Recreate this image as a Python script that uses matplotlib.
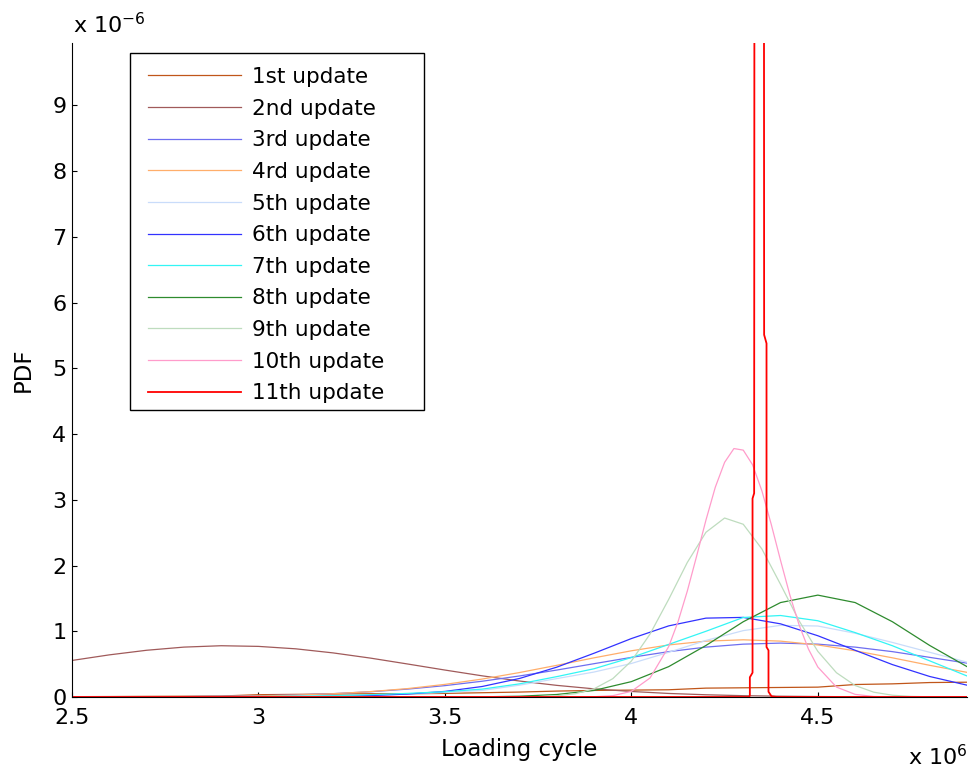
import numpy as np
import matplotlib
matplotlib.use('Agg')
import matplotlib.pyplot as plt
from matplotlib.patches import Rectangle

# Loading cycle in units of 10^6, PDF in units of 10^-6.
cycles = [2.5, 2.6, 2.7, 2.8, 2.9, 3.0, 3.1, 3.2, 3.3, 3.4, 3.5, 3.6, 3.7,
          3.8, 3.9, 4.0, 4.1, 4.2, 4.3, 4.4, 4.5, 4.6, 4.7, 4.8, 4.9]

pdf_1st = [0.005, 0.007, 0.01, 0.012, 0.015, 0.035, 0.04, 0.045, 0.05, 0.05, 0.055, 0.065, 0.075,
           0.09, 0.1, 0.105, 0.11, 0.135, 0.14, 0.145, 0.15, 0.19, 0.2, 0.22, 0.225]
pdf_2nd = [0.556, 0.641, 0.711, 0.759, 0.78, 0.77, 0.733, 0.671, 0.592, 0.502, 0.41, 0.322, 0.243,
           0.177, 0.124, 0.084, 0.054, 0.034, 0.02, 0.012, 0.007, 0.004, 0.002, 0.001, 0.0005]
pdf_3rd = [0.001, 0.002, 0.003, 0.006, 0.011, 0.019, 0.032, 0.051, 0.08, 0.12, 0.173, 0.24, 0.32,
           0.41, 0.507, 0.603, 0.69, 0.759, 0.804, 0.82, 0.804, 0.759, 0.69, 0.603, 0.515]
pdf_4th = [0.0004, 0.0009, 0.002, 0.004, 0.009, 0.016, 0.029, 0.05, 0.082, 0.128, 0.192, 0.273, 0.372,
           0.482, 0.596, 0.703, 0.792, 0.85, 0.87, 0.85, 0.792, 0.703, 0.596, 0.482, 0.375]
pdf_5th = [0.0, 0.001, 0.001, 0.002, 0.003, 0.005, 0.009, 0.016, 0.027, 0.045, 0.07, 0.1, 0.18,
           0.28, 0.38, 0.51, 0.68, 0.86, 1.01, 1.09, 1.08, 0.97, 0.83, 0.68, 0.53]
pdf_6th = [0.0, 0.0, 0.0, 0.0001, 0.0002, 0.001, 0.003, 0.008, 0.022, 0.045, 0.085, 0.16, 0.282,
           0.454, 0.666, 0.889, 1.082, 1.2, 1.211, 1.113, 0.932, 0.711, 0.493, 0.312, 0.18]
pdf_7th = [0.0, 0.0, 0.001, 0.002, 0.004, 0.007, 0.012, 0.02, 0.035, 0.055, 0.08, 0.12, 0.2,
           0.31, 0.43, 0.6, 0.8, 1.0, 1.21, 1.24, 1.16, 0.98, 0.78, 0.55, 0.32]
pdf_8th = [0.0, 0.0, 0.0, 0.0, 0.0, 0.0, 0.0, 0.0, 0.0, 0.0, 0.001, 0.003, 0.012,
           0.038, 0.1, 0.234, 0.462, 0.784, 1.145, 1.437, 1.55, 1.437, 1.145, 0.784, 0.462]

cycles_9th = [2.5, 3.0, 3.5, 3.7, 3.75, 3.8, 3.85, 3.9, 3.95, 4.0, 4.05, 4.1, 4.15, 4.2,
              4.25, 4.3, 4.35, 4.4, 4.45, 4.5, 4.55, 4.6, 4.65, 4.7, 4.75, 4.8, 4.9]
pdf_9th = [0.0, 0.0, 0.0, 0.002, 0.006, 0.018, 0.05, 0.125, 0.278, 0.547, 0.957, 1.485, 2.047, 2.506,
           2.723, 2.628, 2.252, 1.713, 1.157, 0.694, 0.369, 0.175, 0.073, 0.027, 0.009, 0.003, 0.0]

cycles_10th = [2.5, 3.5, 3.8, 3.85, 3.9, 3.95, 4.0, 4.05, 4.1, 4.125, 4.15, 4.175, 4.2, 4.225,
               4.25, 4.275, 4.3, 4.325, 4.35, 4.375, 4.4, 4.425, 4.45, 4.475, 4.5, 4.55, 4.6,
               4.65, 4.7, 4.8, 4.9]
pdf_10th = [0.0, 0.0, 0.0001, 0.0006, 0.004, 0.02, 0.086, 0.289, 0.766, 1.144, 1.612, 2.144, 2.692, 3.191,
            3.57, 3.78, 3.756, 3.533, 3.136, 2.628, 2.078, 1.551, 1.093, 0.727, 0.456, 0.151, 0.04,
            0.008, 0.001, 0.0, 0.0]

cycles_11th = [2.5, 4.3, 4.3163, 4.3177, 4.3177, 4.3249, 4.3249, 4.3292, 4.33, 4.343, 4.3555,
               4.356, 4.3624, 4.3624, 4.3677, 4.3677, 4.3758, 4.39, 4.9]
pdf_11th = [0.0, 0.0, 0.0, 0.03, 0.3, 0.37, 3.02, 3.1, 12.0, 40.0, 12.0,
            5.51, 5.38, 0.76, 0.71, 0.08, 0.01, 0.0, 0.0]

labels = ['1st update', '2nd update', '3rd update', '4rd update', '5th update', '6th update',
          '7th update', '8th update', '9th update', '10th update', '11th update']
colors = ['#c0561a', '#a05a5a', '#6e6ef0', '#ffae6b', '#c9dcfa', '#3232ff',
          '#33f5f5', '#2e8b2e', '#bedcbe', '#ff9ccb', '#ff0000']

series = [(cycles, pdf_1st), (cycles, pdf_2nd), (cycles, pdf_3rd), (cycles, pdf_4th),
          (cycles, pdf_5th), (cycles, pdf_6th), (cycles, pdf_7th), (cycles, pdf_8th),
          (cycles_9th, pdf_9th), (cycles_10th, pdf_10th), (cycles_11th, pdf_11th)]

plt.rcParams['font.family'] = ['DejaVu Sans']

W, H = 972, 776
fig = plt.figure(figsize=(W / 100, H / 100), dpi=100)
ax = fig.add_axes([72 / W, 1 - 697 / H, (967 - 72) / W, (697 - 43) / H])

lines = []
for (x, y), lab, col in zip(series, labels, colors):
    lw = 1.3 if lab == '11th update' else 0.9
    ln, = ax.plot(x, y, color=col, lw=lw, label=lab)
    lines.append(ln)

ax.set_xlim(2.5, 4.9)
ax.set_ylim(0, 9.95)
ax.set_xticks([2.5, 3, 3.5, 4, 4.5])
ax.set_xticklabels(['2.5', '3', '3.5', '4', '4.5'])
ax.set_yticks(np.arange(0, 10))
ax.spines['top'].set_visible(False)
ax.spines['right'].set_visible(False)
for s in ['left', 'bottom']:
    ax.spines[s].set_linewidth(0.8)
ax.tick_params(direction='in', length=3.3, width=0.8, labelsize=16)
ax.tick_params(axis='y', pad=4)
ax.tick_params(axis='x', pad=8)

ax.set_xlabel('Loading cycle', fontsize=16.5)
ax.xaxis.set_label_coords(0.5, -0.062)
ax.set_ylabel('PDF', fontsize=16.5)
ax.yaxis.set_label_coords(-0.042, 0.5)

# exponent markers, MATLAB style
fig.text(73 / W, 1 - 33 / H, r'x 10$^{-6}$', fontsize=16, ha='left', va='baseline')
fig.text(908 / W, 1 - 765 / H, r'x 10$^{6}$', fontsize=16, ha='left', va='baseline')

leg = fig.legend(handles=lines, loc='upper left', bbox_to_anchor=(148 / W, 1 - 67 / H),
                 bbox_transform=fig.transFigure, frameon=False, fontsize=15.5,
                 borderaxespad=0, borderpad=0, handlelength=4.3, handletextpad=0.55,
                 labelspacing=0.54)
fig.patches.append(Rectangle((130 / W, 1 - 410 / H), (424 - 130) / W, (410 - 53) / H,
                             transform=fig.transFigure, fill=False, edgecolor='black', lw=1.0))

plt.savefig('out.png', dpi=100)
